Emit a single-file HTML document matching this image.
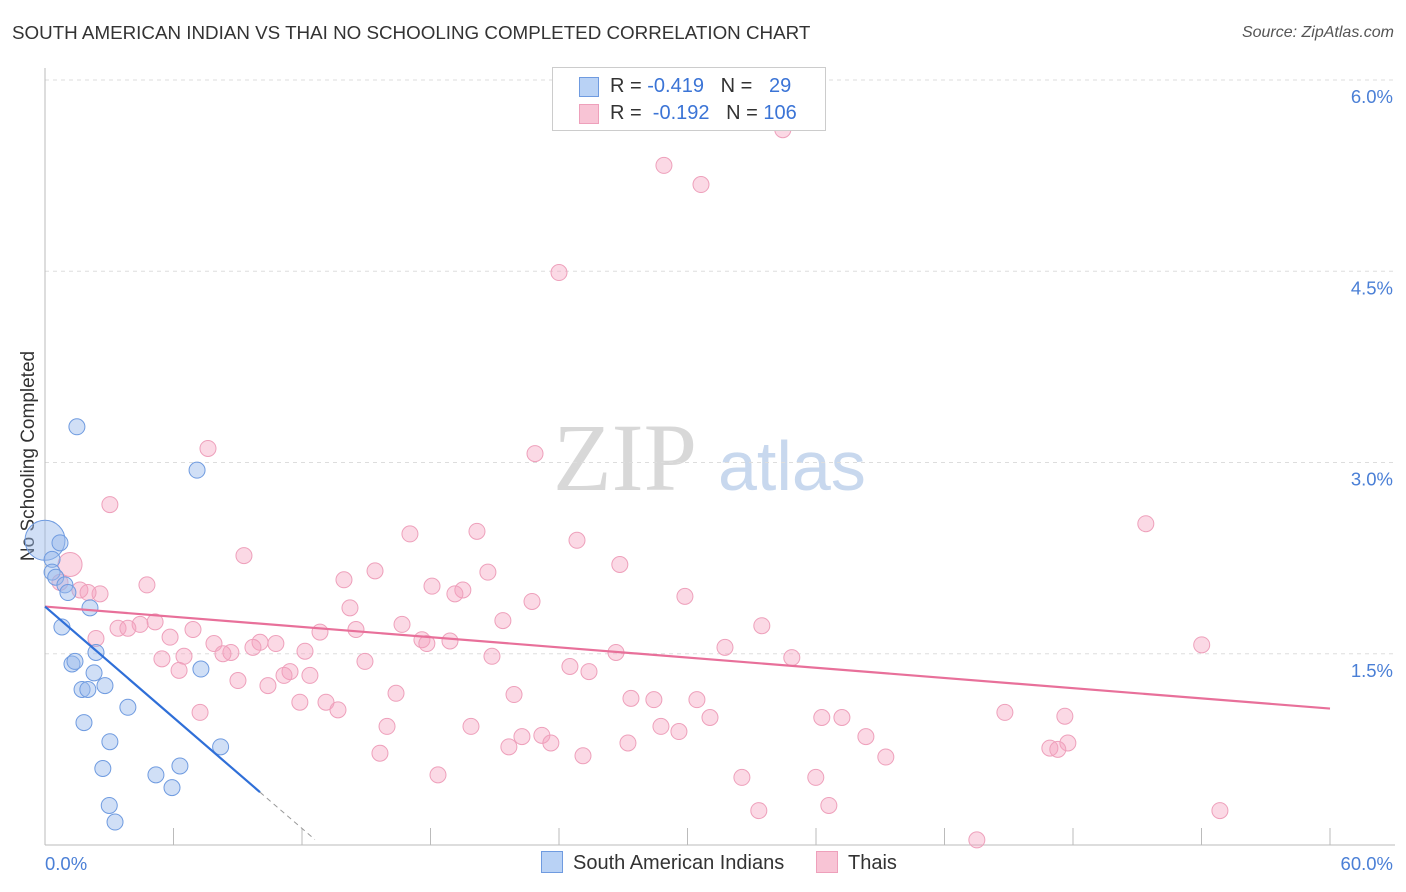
<!DOCTYPE html>
<html><head><meta charset="utf-8">
<style>
body{margin:0;background:#fff;font-family:"Liberation Sans",sans-serif;}
#wrap{position:relative;width:1406px;height:892px;overflow:hidden;}
.t{position:absolute;white-space:nowrap;}
</style></head>
<body>
<div id="wrap">
<div class="t" style="left:12px;top:22px;font-size:18.8px;color:#333;">SOUTH AMERICAN INDIAN VS THAI NO SCHOOLING COMPLETED CORRELATION CHART</div>
<div class="t" style="right:12px;top:24px;font-size:16px;color:#555;font-style:italic;">Source: ZipAtlas.com</div>
<svg id="svg" width="1406" height="892" style="position:absolute;left:0;top:0"></svg>
</div>
<script>
const blueX=[0,0.33,0.7,0.33,0.5,0.93,1.07,2.1,0.79,1.49,7.1,1.26,1.4,2.38,2.29,1.73,2.0,2.8,7.28,1.82,3.87,3.03,8.2,2.7,5.18,6.3,5.93,3.0,3.27];
const blueY=[2.39,2.24,2.37,2.14,2.10,2.04,1.98,1.86,1.71,3.28,2.94,1.42,1.44,1.51,1.35,1.22,1.22,1.25,1.38,0.96,1.08,0.81,0.77,0.60,0.55,0.62,0.45,0.31,0.18];
const pinkX=[34.45,28.9,30.63,24.0,7.61,22.88,3.03,51.4,20.17,17.04,24.84,9.29,1.17,26.84,15.41,20.68,13.96,4.76,18.07,19.51,19.14,1.63,2.57,2.01,0.7,29.88,22.74,14.24,21.38,33.47,16.67,5.14,4.44,3.41,3.87,6.91,12.84,14.52,5.84,2.38,10.04,7.89,10.78,17.6,17.83,18.91,54.01,9.71,12.14,8.68,8.31,31.75,26.66,6.49,5.46,20.87,34.87,14.94,24.51,25.4,6.26,11.44,12.37,11.16,10.41,9.01,16.39,21.9,27.36,28.43,30.44,11.9,13.12,13.68,7.24,44.82,47.62,31.05,36.27,37.21,19.89,15.97,28.76,29.6,23.2,22.27,38.33,47.76,46.92,47.29,27.22,21.66,23.62,15.64,25.12,39.26,18.35,32.54,35.99,33.33,36.6,54.86,43.51];
const pinkY=[5.61,5.33,5.18,4.49,3.11,3.07,2.67,2.52,2.46,2.44,2.39,2.27,2.20,2.20,2.15,2.14,2.08,2.04,2.03,2.00,1.97,2.00,1.97,1.98,2.06,1.95,1.91,1.86,1.76,1.72,1.73,1.75,1.73,1.70,1.70,1.69,1.67,1.69,1.63,1.62,1.59,1.58,1.58,1.61,1.58,1.60,1.57,1.55,1.52,1.51,1.50,1.55,1.51,1.48,1.46,1.48,1.47,1.44,1.40,1.36,1.37,1.36,1.33,1.33,1.25,1.29,1.19,1.18,1.15,1.14,1.14,1.12,1.12,1.06,1.04,1.04,1.01,1.00,1.00,1.00,0.93,0.93,0.93,0.89,0.86,0.85,0.85,0.80,0.76,0.75,0.80,0.77,0.80,0.72,0.70,0.69,0.55,0.53,0.53,0.27,0.31,0.27,0.04];
const pinkR=[];pinkR[12]=12;
const blueR=[20];
const yTicks=[1.5,3.0,4.5,6.0];
const yTickLabels=["1.5%","3.0%","4.5%","6.0%"];
const xTicks=[0,6,12,18,24,30,36,42,48,54,60];
const blueTrend=[1.87,-0.145,10.04,12.6];
const pinkTrend=[1.87,1.07];

const X0=45,X1=1330,Y0=845,Y6=80;
const sx=v=>X0+(X1-X0)*v/60;
const sy=v=>Y0-(Y0-Y6)*v/6;
const svg=document.getElementById('svg');
const NS='http://www.w3.org/2000/svg';
function mk(tag,attrs,name){const e=document.createElementNS(NS,tag);for(const k in attrs)e.setAttribute(k,attrs[k]);


svg.appendChild(e);return e;}
let w=mk('text',{x:553,y:490,'font-family':'Liberation Serif,serif','font-size':96,fill:'#d8d8d8'},'watermark-zip');w.textContent='ZIP';
w=mk('text',{x:718,y:490,'font-family':'Liberation Sans,sans-serif','font-size':70,fill:'#c8d8ee'},'watermark-atlas');w.textContent='atlas';
yTicks.forEach((t,i)=>{
 mk('line',{x1:X0,x2:1395,y1:sy(t),y2:sy(t),stroke:'#ddd','stroke-dasharray':'4,4'},'y-gridline');
 const l=mk('text',{x:1393,y:sy(t)+23,'text-anchor':'end','font-size':18.5,fill:'#4a7fd6','font-family':'Liberation Sans,sans-serif'},'y-tick-label');l.textContent=yTickLabels[i];
});
mk('line',{x1:X0,x2:X0,y1:68,y2:Y0,stroke:'#bbb'},'y-axis');
mk('line',{x1:X0,x2:1395,y1:Y0,y2:Y0,stroke:'#bbb'},'x-axis');
xTicks.forEach(t=>mk('line',{x1:sx(t),x2:sx(t),y1:828,y2:Y0,stroke:'#bbb'},'x-tick'));
let tl=mk('text',{x:45,y:870,'font-size':18.5,fill:'#4a7fd6','font-family':'Liberation Sans,sans-serif'},'x-tick-label');tl.textContent='0.0%';
tl=mk('text',{x:1393,y:870,'text-anchor':'end','font-size':18.5,fill:'#4a7fd6','font-family':'Liberation Sans,sans-serif'},'x-tick-label');tl.textContent='60.0%';
let yt=mk('text',{x:34,y:456,transform:'rotate(-90 34 456)','text-anchor':'middle','font-size':19,fill:'#333','font-family':'Liberation Sans,sans-serif'},'y-axis-title');yt.textContent='No Schooling Completed';
pinkX.forEach((x,i)=>mk('circle',{cx:sx(x),cy:sy(pinkY[i]),r:pinkR[i]||8,fill:'rgba(244,160,190,0.4)',stroke:'#eea0bb','stroke-width':1},'thais-point'));
blueX.forEach((x,i)=>mk('circle',{cx:sx(x),cy:sy(blueY[i]),r:blueR[i]||8,fill:'rgba(150,185,235,0.45)',stroke:'#6f9be0','stroke-width':1},'south-american-indians-point'));
mk('line',{x1:sx(0),y1:sy(pinkTrend[0]),x2:sx(60),y2:sy(pinkTrend[1]),stroke:'#e8709a','stroke-width':2.2},'thais-trend-line');
const [b0,bs,be,bd]=blueTrend;
mk('line',{x1:sx(0),y1:sy(b0),x2:sx(be),y2:sy(b0+bs*be),stroke:'#2f6fd8','stroke-width':2.2},'south-american-indians-trend-line');
mk('line',{x1:sx(be),y1:sy(b0+bs*be),x2:sx(bd),y2:sy(b0+bs*bd),stroke:'#999','stroke-width':1,'stroke-dasharray':'5,4'},'trend-extension');
</script>
<div class="t" style="left:552px;top:67px;width:272px;height:62px;border:1px solid #ccc;background:#fff;font-size:20px;color:#333;">
 <div style="position:absolute;left:26px;top:9px;width:18px;height:18px;background:#b9d2f5;border:1px solid #6f9be0;"></div>
 <div style="position:absolute;left:57px;top:7px;">R = <span style="color:#3b74d6">-0.419</span>&nbsp;&nbsp;&nbsp;N = &nbsp;&nbsp;<span style="color:#3b74d6">29</span></div>
 <div style="position:absolute;left:26px;top:36px;width:18px;height:18px;background:#f8c4d5;border:1px solid #eea0bb;"></div>
 <div style="position:absolute;left:57px;top:34px;">R = &nbsp;<span style="color:#3b74d6">-0.192</span>&nbsp;&nbsp;&nbsp;N = <span style="color:#3b74d6">106</span></div>
</div>
<div class="t" style="left:541px;top:851px;font-size:20px;color:#333;"><span style="display:inline-block;width:20px;height:20px;background:#b9d2f5;border:1px solid #6f9be0;vertical-align:-4px;margin-right:10px;"></span>South American Indians</div>
<div class="t" style="left:816px;top:851px;font-size:20px;color:#333;"><span style="display:inline-block;width:20px;height:20px;background:#f8c4d5;border:1px solid #eea0bb;vertical-align:-4px;margin-right:10px;"></span>Thais</div>
</body></html>
